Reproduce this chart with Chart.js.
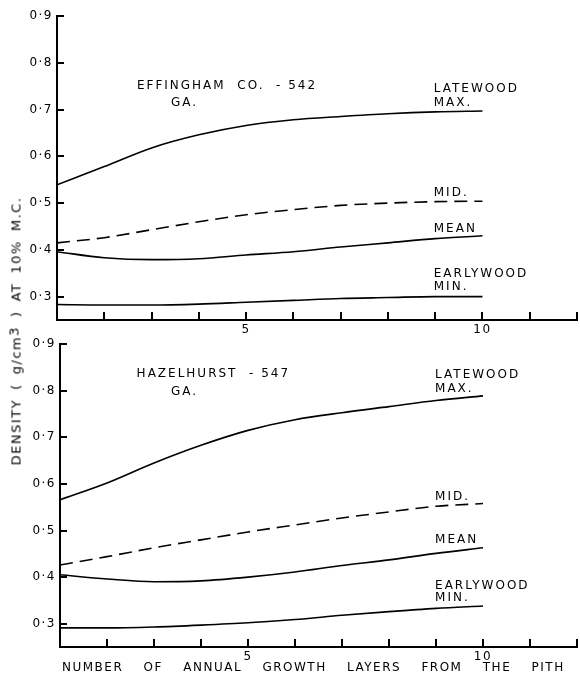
<!DOCTYPE html>
<html>
<head>
<meta charset="utf-8">
<script src="https://cdn.jsdelivr.net/npm/chart.js@4.4.1/dist/chart.umd.min.js"></script>
<style>
  body { margin: 0; background: #fff; }
  #wrap { position: relative; width: 580px; height: 678px; background: #fff; overflow: hidden; }
  .box { position: absolute; left: 0; width: 580px; }
  #ytitle {
    position: absolute; left: 16px; top: 331px;
    transform: translate(-50%, -50%) rotate(-90deg);
    white-space: nowrap; font: 13px "DejaVu Sans"; letter-spacing: 1.5px; word-spacing: 3.4px; color: #000;
  }
  #xtitle {
    position: absolute; left: 62px; top: 660px;
    white-space: nowrap; font: 12px "DejaVu Sans"; letter-spacing: 1.5px; word-spacing: 15px; color: #000;
  }
</style>
</head>
<body>
<div id="wrap">
  <div class="box" style="top:0;height:340px"><canvas id="graficoTopo"></canvas></div>
  <div class="box" style="top:333px;height:345px"><canvas id="graficoBaixo"></canvas></div>
  <div id="ytitle">DENSITY ( g/cm<span style="position:relative;top:-2px">3</span> ) AT 10% M.C.</div>
  <div id="xtitle">NUMBER OF ANNUAL GROWTH LAYERS FROM THE PITH</div>
</div>
<script>
  // anos (camadas de crescimento a partir da medula)
  const anos = [1, 2, 3, 4, 5, 6, 7, 8, 9, 10];
  const ticksX = [1, 2, 3, 4, 5, 6, 7, 8, 9, 10, 11, 12];
  const rotulosX = [5, 10];
  const ticksY = [0.3, 0.4, 0.5, 0.6, 0.7, 0.8, 0.9];

  // Effingham Co. - 542, GA.
  const effLatewood = [0.539, 0.578, 0.618, 0.646, 0.666, 0.678, 0.685, 0.691, 0.695, 0.697];
  const effMid = [0.415, 0.426, 0.443, 0.460, 0.475, 0.486, 0.495, 0.500, 0.503, 0.504];
  const effMean = [0.396, 0.383, 0.379, 0.381, 0.389, 0.396, 0.406, 0.415, 0.424, 0.430];
  const effEarlywood = [0.283, 0.282, 0.282, 0.284, 0.288, 0.292, 0.296, 0.298, 0.300, 0.300];

  // Hazelhurst - 547, GA.
  const hazLatewood = [0.566, 0.602, 0.645, 0.683, 0.715, 0.738, 0.753, 0.766, 0.779, 0.789];
  const hazMid = [0.426, 0.444, 0.463, 0.480, 0.497, 0.512, 0.527, 0.540, 0.552, 0.558];
  const hazMean = [0.405, 0.396, 0.390, 0.392, 0.400, 0.411, 0.425, 0.437, 0.451, 0.463];
  const hazEarlywood = [0.291, 0.291, 0.293, 0.297, 0.302, 0.309, 0.318, 0.326, 0.333, 0.338];

  const fonte = '"DejaVu Sans"';

  function serie(valores, tracejada) {
    return {
      data: anos.map((a, i) => ({ x: a, y: valores[i] })),
      borderColor: "#000",
      borderWidth: 1.6,
      borderDash: tracejada ? [13, 7] : [],
      pointRadius: 0,
      fill: false,
      cubicInterpolationMode: "monotone"
    };
  }

  // marcas de escala para dentro + textos das curvas
  const pluginEixos = {
    id: "eixos",
    beforeDraw(chart) {
      chart.ctx.letterSpacing = "1.5px";
    },
    afterDraw(chart, args, opts) {
      const ctx = chart.ctx;
      const area = chart.chartArea;
      const x = chart.scales.x, y = chart.scales.y;
      ctx.save();
      ctx.fillStyle = "#000";
      ticksY.forEach(v => {
        const py = Math.round(y.getPixelForValue(v));
        ctx.fillRect(Math.round(area.left), py - 1, 7, 2);
      });
      ticksX.slice(1).forEach(v => {
        const px = Math.round(x.getPixelForValue(v));
        ctx.fillRect(px - 1, Math.round(area.bottom) - 8, 2, 8);
      });

      ctx.font = "12px " + fonte;
      ctx.letterSpacing = "2px";
      ctx.textAlign = "left";
      ctx.textBaseline = "middle";
      (opts.notas || []).forEach(n => {
        ctx.fillText(n.texto, x.getPixelForValue(n.x), y.getPixelForValue(n.y));
      });
      ctx.restore();
    }
  };

  function criarGrafico(id, series, notas, area) {
    const ctx = document.getElementById(id).getContext("2d");
    return new Chart(ctx, {
      type: "line",
      data: {
        datasets: [
          serie(series[0], false),
          serie(series[1], true),
          serie(series[2], false),
          serie(series[3], false)
        ]
      },
      options: {
        responsive: true,
        maintainAspectRatio: false,
        animation: false,
        devicePixelRatio: 1,
        layout: { padding: { top: area.top, right: 2, left: 0, bottom: 0 } },
        plugins: {
          legend: { display: false },
          tooltip: { enabled: false },
          eixos: { notas: notas }
        },
        scales: {
          x: {
            type: "linear",
            min: 1,
            max: 12,
            afterBuildTicks: s => { s.ticks = ticksX.map(v => ({ value: v })); },
            afterFit: s => { s.height = area.xAltura; },
            grid: { display: false, drawTicks: false },
            border: { display: true, color: "#000", width: 2 },
            ticks: {
              color: "#000",
              padding: 3,
              maxRotation: 0,
              autoSkip: false,
              font: { family: fonte, size: 12 },
              callback: v => (rotulosX.includes(v) ? String(v) : "")
            }
          },
          y: {
            min: 0.25,
            max: 0.9,
            afterBuildTicks: s => { s.ticks = ticksY.map(v => ({ value: v })); },
            afterFit: s => { s.width = area.esquerda; },
            grid: { display: false, drawTicks: false },
            border: { display: true, color: "#000", width: 2 },
            ticks: {
              color: "#000",
              padding: 4,
              font: { family: fonte, size: 12 },
              callback: v => v.toFixed(1).replace(".", "\u00b7")
            }
          }
        }
      },
      plugins: [pluginEixos]
    });
  }

  const notasTopo = [
    { texto: "EFFINGHAM  CO.  - 542", x: 2.69, y: 0.751 },
    { texto: "GA.", x: 3.41, y: 0.715 },
    { texto: "LATEWOOD", x: 8.97, y: 0.744 },
    { texto: "MAX.", x: 8.97, y: 0.715 },
    { texto: "MID.", x: 8.97, y: 0.522 },
    { texto: "MEAN", x: 8.97, y: 0.445 },
    { texto: "EARLYWOOD", x: 8.97, y: 0.349 },
    { texto: "MIN.", x: 8.97, y: 0.321 }
  ];

  const notasBaixo = [
    { texto: "HAZELHURST  - 547", x: 2.63, y: 0.837 },
    { texto: "GA.", x: 3.36, y: 0.797 },
    { texto: "LATEWOOD", x: 8.98, y: 0.835 },
    { texto: "MAX.", x: 8.98, y: 0.805 },
    { texto: "MID.", x: 8.98, y: 0.572 },
    { texto: "MEAN", x: 8.98, y: 0.48 },
    { texto: "EARLYWOOD", x: 8.98, y: 0.381 },
    { texto: "MIN.", x: 8.98, y: 0.356 }
  ];

  criarGrafico("graficoTopo", [effLatewood, effMid, effMean, effEarlywood], notasTopo,
    { top: 16, xAltura: 20, esquerda: 57 });
  criarGrafico("graficoBaixo", [hazLatewood, hazMid, hazMean, hazEarlywood], notasBaixo,
    { top: 11, xAltura: 31, esquerda: 60 });
</script>
</body>
</html>
